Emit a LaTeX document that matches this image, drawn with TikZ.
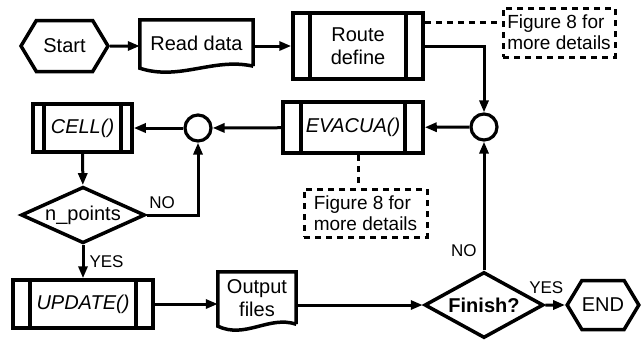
\documentclass[tikz,border=0pt]{standalone}
\usepackage{fontspec}
\setmainfont{Liberation Sans}
\usetikzlibrary{arrows.meta, positioning, shapes.geometric, shapes.symbols, calc}

\begin{document}
\begin{tikzpicture}[x=1pt, y=-1pt, >={Triangle[length=12pt, width=9pt]},
  font=\fontsize{20}{23}\selectfont,
  outl/.style={line width=3.5pt},
  arr/.style={->, line width=3pt},
  dsh/.style={line width=3pt, dash pattern=on 6pt off 5pt},
  term/.style={draw, outl, shape=signal, signal to=west and east, signal pointer angle=118, minimum width=#1, minimum height=51pt, inner sep=0pt},
  prc/.style={draw, outl, align=center, inner sep=0pt,
    path picture={\draw[line width=3.5pt] ([xshift=#1]path picture bounding box.north west) -- ([xshift=#1]path picture bounding box.south west)
      ([xshift=-#1]path picture bounding box.north east) -- ([xshift=-#1]path picture bounding box.south east);}},
  docu/.style={align=center, inner sep=0pt},
  dec/.style={draw, outl, diamond, inner sep=0pt, aspect=2},
  jn/.style={circle, draw, line width=3.2pt, minimum size=26pt, inner sep=0pt},
  notebox/.style={draw, dsh, align=left, inner sep=2pt, font=\fontsize{19}{21}\selectfont},
  lbl/.style={font=\fontsize{17}{20}\selectfont, inner sep=1pt}]
\useasboundingbox (0,0) rectangle (644,341);

% top row
\node[term=87pt] (start) at (64.5,46) {Start};
\node[docu, minimum width=113pt, minimum height=46pt] (read) at (196.5,43) {Read data};
\node[prc=17pt, minimum width=130pt, minimum height=66pt] (route) at (358,46) {Route\\define};
\node[notebox, minimum width=112pt, minimum height=49pt] (note1) at (559,32.5) {Figure 8 for\\more details};

% middle row
\node[jn] (c1) at (484,127) {};
\node[prc=18pt, minimum width=140pt, minimum height=51pt] (evac) at (353,127.5) {\itshape EVACUA()};
\node[jn] (c2) at (198,128) {};
\node[prc=11pt, minimum width=99pt, minimum height=48pt] (cell) at (82.5,128) {\itshape CELL()};
\node[dec, minimum width=124pt, minimum height=56pt] (np) at (83,215) {n\_points};
\node[notebox, minimum width=123pt, minimum height=48pt] (note2) at (365.5,213) {Figure 8 for\\more details};

% bottom row
\node[prc=17pt, minimum width=140pt, minimum height=48pt] (upd) at (83,304) {\itshape UPDATE()};
\node[docu, minimum width=78pt, minimum height=52pt] (out) at (257,298) {Output\\files};
\node[dec, minimum width=119pt, minimum height=66pt] (fin) at (484,305) {\bfseries Finish?};
\node[term=60pt, minimum height=49pt] (stop) at (603,305) {END};

% document outlines
\foreach \n in {read,out}
  \draw[outl, line join=miter] (\n.south east) -- (\n.north east) -- (\n.north west) -- ([yshift=-2pt]\n.south west)
    .. controls ($(\n.south west)!0.35!(\n.south east)+(0,15)$) and ($(\n.south west)!0.65!(\n.south east)+(0,-9)$) .. (\n.south east);

\coordinate (d1) at ($(route.north east)+(0,11)$);
\coordinate (d2) at ($(evac.south)+(5,0)$);

\draw[arr] (start) -- (read.west |- start);
\draw[arr] (read.east |- route) -- (route);
\draw[dsh] (d1) -- (note1.west |- d1);
\draw[arr] (route.east) -| (c1.north);
\draw[arr] (c1) -- (evac);
\draw[arr] (evac) -- (c2);
\draw[arr] (c2) -- (cell);
\draw[arr] (cell) -- (np);
\draw[arr] (np.east) -| node[lbl, pos=0.15, above=4pt] {NO} (c2.south);
\draw[dsh] (evac.south -| d2) -- (note2.north -| d2);
\draw[arr] (np) -- node[lbl, right=4pt] {YES} (upd);
\draw[arr] (upd) -- (out.west |- upd);
\draw[arr] (out.east |- fin) -- (fin);
\draw[arr] (fin) -- node[lbl, pos=0.15, left=5pt] {NO} (c1);
\draw[arr] (fin) -- node[lbl, pos=0.05, above=9pt] {YES} (stop);
\end{tikzpicture}
\end{document}
